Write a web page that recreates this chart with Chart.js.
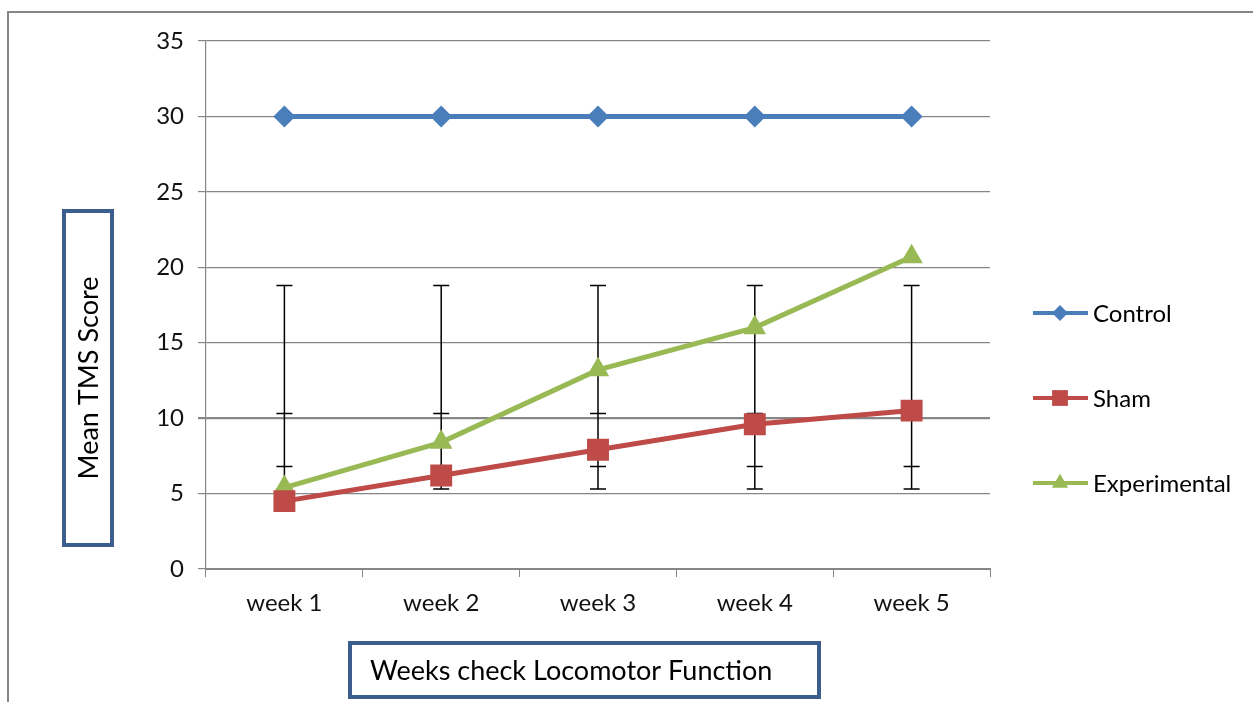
<!DOCTYPE html>
<html>
<head>
<meta charset="utf-8">
<script src="https://cdn.jsdelivr.net/npm/chart.js@4.4.0/dist/chart.umd.min.js"></script>
<style>
  html, body { margin: 0; padding: 0; background: #fff; }
  #wrap { width: 1253px; height: 702px; position: relative; }
</style>
</head>
<body>
<div id="wrap"><canvas id="tmsChart" width="1253" height="702"></canvas></div>
<script>
// Data
const weeks = ["week 1", "week 2", "week 3", "week 4", "week 5"];
const control = [30, 30, 30, 30, 30];
const sham = [4.5, 6.2, 7.9, 9.6, 10.5];
const experimental = [5.4, 8.4, 13.2, 16.0, 20.7];

// error bar ends and caps drawn at every week
const errUpper = [18.8, 18.8, 18.8, 18.8, 18.8];
const errMidHigh = [10.3, 10.3, 10.3, 10.3, 10.3];
const errMidLow = [6.8, 6.8, 6.8, 6.8, 6.8];
const errLower = [5.3, 5.3, 5.3, 5.3, 5.3];

const FONT = "Lato, 'Open Sans', sans-serif";
const GRID = "#868686";
const BOX = "#3B5E8C";

// Error bars behind the series
const errorBars = {
  id: "errorBars",
  beforeDatasetsDraw(chart) {
    const { ctx, scales: { x, y } } = chart;
    ctx.save();
    ctx.strokeStyle = "#000";
    ctx.lineWidth = 1.5;
    weeks.forEach((w, i) => {
      const px = x.getPixelForValue(i);
      ctx.beginPath();
      ctx.moveTo(px, y.getPixelForValue(errUpper[i]));
      ctx.lineTo(px, y.getPixelForValue(errLower[i]));
      [errUpper[i], errMidHigh[i], errMidLow[i], errLower[i]].forEach(v => {
        const py = y.getPixelForValue(v);
        ctx.moveTo(px - 8, py);
        ctx.lineTo(px + 8, py);
      });
      ctx.stroke();
    });
    ctx.restore();
  }
};

// Outer frame, axis title boxes and the legend
const decorations = {
  id: "decorations",
  afterDraw(chart) {
    const ctx = chart.ctx;
    ctx.save();
    // outer frame
    ctx.strokeStyle = GRID;
    ctx.lineWidth = 2;
    ctx.strokeRect(8, 12, 1400, 900);

    // y title box
    ctx.strokeStyle = BOX;
    ctx.lineWidth = 4;
    ctx.strokeRect(64, 211, 48, 334);
    ctx.fillStyle = "#000";
    ctx.font = "27px " + FONT;
    ctx.textAlign = "center";
    ctx.textBaseline = "middle";
    ctx.save();
    ctx.translate(89, 378);
    ctx.rotate(-Math.PI / 2);
    ctx.fillText("Mean TMS Score", 0, 0);
    ctx.restore();

    // x title box
    ctx.strokeRect(350, 643, 469, 54);
    ctx.textAlign = "left";
    ctx.fillText("Weeks check Locomotor Function", 370, 671);

    // legend
    const rows = [313, 398, 483];
    ctx.font = "24px " + FONT;
    chart.data.datasets.forEach((ds, i) => {
      const yy = rows[i];
      ctx.strokeStyle = ds.borderColor;
      ctx.lineWidth = 4;
      ctx.beginPath();
      ctx.moveTo(1033, yy);
      ctx.lineTo(1088, yy);
      ctx.stroke();
      ctx.fillStyle = ds.borderColor;
      Chart.helpers.drawPoint(ctx, {
        pointStyle: ds.pointStyle,
        radius: ds.pointRadius * 0.72,
        borderWidth: 0
      }, 1060, yy);
      ctx.fillStyle = "#000";
      ctx.textBaseline = "middle";
      ctx.fillText(ds.label, 1093, yy + 1);
    });
    ctx.restore();
  }
};

new Chart(document.getElementById("tmsChart"), {
  type: "line",
  data: {
    labels: weeks,
    datasets: [
      {
        label: "Control",
        data: control,
        borderColor: "#4A7EBB",
        backgroundColor: "#4A7EBB",
        borderWidth: 5,
        pointStyle: "rectRot",
        pointRadius: 11,
        pointBorderWidth: 0
      },
      {
        label: "Sham",
        data: sham,
        borderColor: "#BE4B48",
        backgroundColor: "#BE4B48",
        borderWidth: 5,
        pointStyle: "rect",
        pointRadius: 15.5,
        pointBorderWidth: 0
      },
      {
        label: "Experimental",
        data: experimental,
        borderColor: "#98B954",
        backgroundColor: "#98B954",
        borderWidth: 5,
        pointStyle: "triangle",
        pointRadius: 13,
        pointBorderWidth: 0
      }
    ]
  },
  options: {
    responsive: false,
    animation: false,
    events: [],
    layout: { padding: { left: 0, top: 41, right: 263, bottom: 0 } },
    plugins: {
      legend: { display: false },
      tooltip: { enabled: false }
    },
    scales: {
      x: {
        offset: true,
        grid: {
          offset: true,
          drawOnChartArea: false,
          color: GRID,
          tickLength: 8
        },
        border: { color: GRID, width: 2 },
        ticks: {
          color: "#111",
          font: { family: FONT, size: 24 },
          padding: 12
        },
        afterFit(s) { s.height = 133; }
      },
      y: {
        min: 0,
        max: 35,
        grid: {
          color: GRID,
          tickLength: 8,
          lineWidth: c => (c.tick && c.tick.value === 10 ? 2.2 : 1.2)
        },
        border: { color: GRID, width: 1.2 },
        ticks: {
          stepSize: 5,
          color: "#111",
          font: { family: FONT, size: 24 },
          padding: 14
        },
        afterFit(s) { s.width = 206; }
      }
    }
  },
  plugins: [errorBars, decorations]
});
</script>
</body>
</html>
